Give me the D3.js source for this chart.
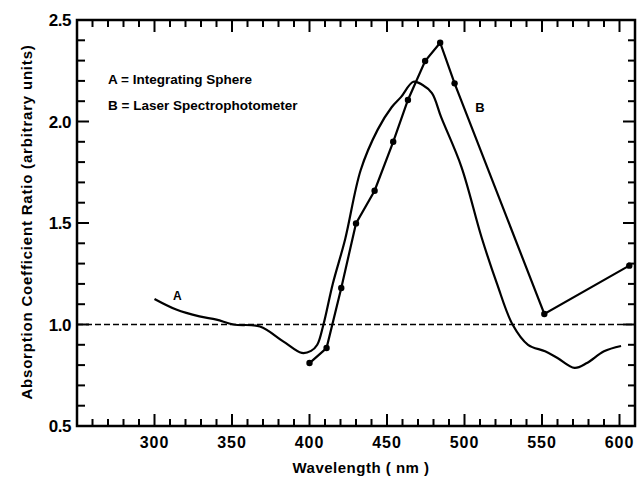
<!DOCTYPE html>
<html>
<head>
<meta charset="utf-8">
<script src="https://cdnjs.cloudflare.com/ajax/libs/d3/7.8.5/d3.min.js"></script>
<style>
body { margin: 0; background: #fff; }
text { font-family: "Liberation Sans", Arial, sans-serif; font-weight: bold; fill: #000; }
</style>
</head>
<body>
<div id="svg"></div>
<script>

// curve A (integrating sphere)
var waveA = [300, 314, 329, 340, 351, 368, 383, 395, 401, 405, 409, 415, 423, 433, 444, 453, 459, 467, 473, 479, 485, 498, 511, 521, 531, 541, 552, 560, 571, 579, 590, 601];
var ratioA = [1.126, 1.074, 1.04, 1.024, 1.0, 0.99, 0.917, 0.86, 0.87, 0.9, 1.0, 1.2, 1.42, 1.76, 1.96, 2.07, 2.12, 2.196, 2.18, 2.14, 2.02, 1.777, 1.43, 1.2, 1.0, 0.9, 0.868, 0.835, 0.786, 0.81, 0.868, 0.894];

// curve B (laser spectrophotometer), measured points
var waveB = [400, 411, 420.5, 430, 442, 454, 463.5, 474.6, 484.3, 493.6, 551.5, 606.3];
var ratioB = [0.81, 0.884, 1.18, 1.498, 1.659, 1.9, 2.106, 2.298, 2.388, 2.188, 1.052, 1.29];

var xMajor = [300, 350, 400, 450, 500, 550, 600];
var yMajor = [0.5, 1.0, 1.5, 2.0, 2.5];

var margin = { top: 20, right: 3, bottom: 52, left: 77 };
var W = 638, H = 478;
var w = W - margin.left - margin.right;
var h = H - margin.top - margin.bottom;

var svg = d3.select("#svg").append("svg")
    .attr("width", W).attr("height", H);
var g = svg.append("g")
    .attr("transform", "translate(" + margin.left + "," + margin.top + ")");

var x = d3.scaleLinear().domain([250, 610]).range([0, w]);
var y = d3.scaleLinear().domain([0.5, 2.5]).range([h, 0]);

var xTicks = d3.range(260, 610, 10);
var yTicks = d3.range(6, 25).map(v => v / 10);
function isMajorX(v) { return v % 50 == 0; }
function isMajorY(v) { return Math.round(v * 10) % 5 == 0; }

// inward ticks on all four sides
function tickLines(cls, data, x1, x2, y1, y2) {
    g.selectAll("line." + cls).data(data).enter().append("line")
        .attr("class", cls)
        .attr("x1", x1).attr("x2", x2).attr("y1", y1).attr("y2", y2)
        .attr("stroke", "#000").attr("stroke-width", 2);
}
tickLines("xb", xTicks, d => x(d), d => x(d), h, d => h - (isMajorX(d) ? 12 : 7));
tickLines("xt", xTicks, d => x(d), d => x(d), 0, d => isMajorX(d) ? 12 : 7);
tickLines("yl", yTicks, 0, d => isMajorY(d) ? 12 : 8, d => y(d), d => y(d));
tickLines("yr", yTicks, w, d => w - (isMajorY(d) ? 12 : 7), d => y(d), d => y(d));

// tick labels
g.selectAll("text.xl").data(xMajor).enter().append("text")
    .attr("class", "xl")
    .attr("x", d => x(d)).attr("y", h + 22)
    .attr("text-anchor", "middle")
    .style("font-size", "16px").attr("letter-spacing", "1px")
    .text(d => d);
g.selectAll("text.yl").data(yMajor).enter().append("text")
    .attr("class", "yl")
    .attr("x", -6).attr("y", d => y(d)).attr("dy", "0.36em")
    .attr("text-anchor", "end")
    .style("font-size", "17px").attr("letter-spacing", "-0.5px")
    .text(d => d3.format(".1f")(d));

// frame
g.append("rect").attr("width", w).attr("height", h)
    .attr("fill", "none").attr("stroke", "#000").attr("stroke-width", 2.5);

// reference line at 1.0
g.append("line")
    .attr("x1", 0).attr("x2", w)
    .attr("y1", y(1.0)).attr("y2", y(1.0))
    .attr("stroke", "#000").attr("stroke-width", 1.5)
    .attr("stroke-dasharray", "6,3");

var dataA = waveA.map((d, i) => [d, ratioA[i]]);
var dataB = waveB.map((d, i) => [d, ratioB[i]]);

g.append("path").datum(dataA)
    .attr("fill", "none").attr("stroke", "#000").attr("stroke-width", 2.2)
    .attr("d", d3.line().x(d => x(d[0])).y(d => y(d[1])).curve(d3.curveCatmullRom));

g.append("path").datum(dataB)
    .attr("fill", "none").attr("stroke", "#000").attr("stroke-width", 2.2)
    .attr("d", d3.line().x(d => x(d[0])).y(d => y(d[1])));

g.selectAll(".dot").data(dataB).enter().append("circle")
    .attr("cx", d => x(d[0])).attr("cy", d => y(d[1])).attr("r", 3.2).attr("fill", "#000");

// curve labels
g.append("text").attr("x", x(312)).attr("y", y(1.12)).style("font-size", "12px").text("A");
g.append("text").attr("x", x(507)).attr("y", y(2.047)).style("font-size", "13px").text("B");

// legend
g.append("text").attr("x", 31).attr("y", 64).style("font-size", "13.5px")
    .text("A = Integrating  Sphere");
g.append("text").attr("x", 31).attr("y", 90).style("font-size", "13.5px")
    .text("B = Laser  Spectrophotometer");

// axis titles
svg.append("text").attr("x", 361).attr("y", 473)
    .attr("text-anchor", "middle").style("font-size", "15px").attr("letter-spacing", "0.5px")
    .text("Wavelength ( nm )");
svg.append("text")
    .attr("transform", "translate(32,222) rotate(-90)")
    .attr("text-anchor", "middle").style("font-size", "15px").attr("letter-spacing", "0.8px")
    .text("Absorption  Coefficient  Ratio  (arbitrary  units)");

</script>
</body>
</html>
